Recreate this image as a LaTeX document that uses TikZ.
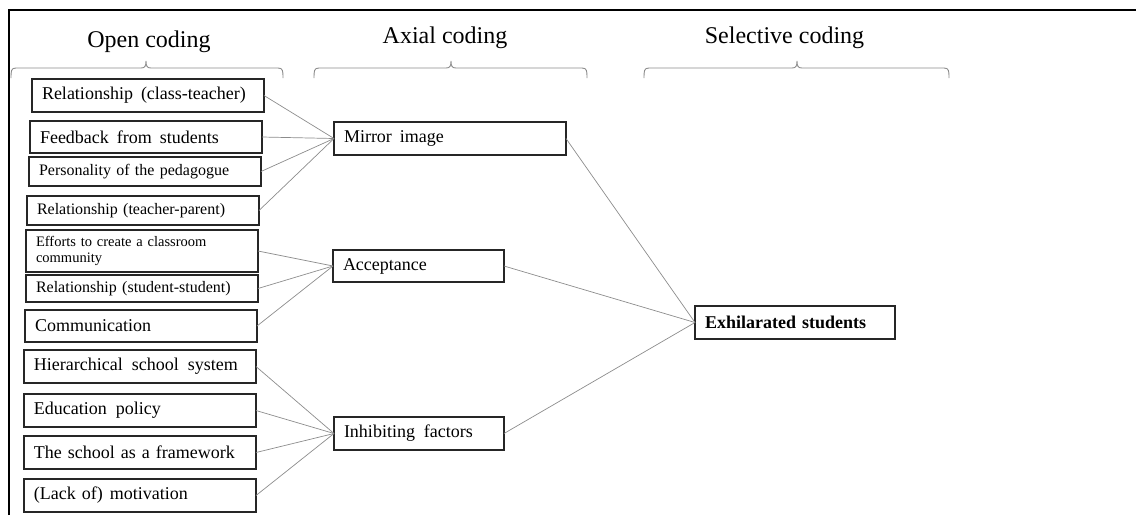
\documentclass[tikz,border=0pt]{standalone}
\usepackage{fontspec}
\setmainfont{Liberation Serif}
\begin{document}
\begin{tikzpicture}[x=1pt,y=-1pt,
  codebox/.style={draw=black!85, line width=1.4pt, anchor=north west,
    inner xsep=10pt, inner ysep=0pt, align=left, outer sep=0pt},
  fsmall/.style={font=\fontsize{14.5}{16.5}\selectfont},
  fmid/.style={font=\fontsize{16}{18}\selectfont},
  fbig/.style={font=\fontsize{18}{20}\selectfont},
  conn/.style={draw=black!45, line width=0.7pt},
  bracket/.style={draw=black!45, line width=0.9pt},
  header/.style={anchor=base, font=\fontsize{24}{26}\selectfont}]
\useasboundingbox (0,0) rectangle (1136,515);

% outer frame (top and left sides)
\draw[line width=2pt] (9,515) -- (9,10) -- (1136,10);

% column headers
\node[header] (hopen) at (149,47) {Open coding};
\node[header] (haxial) at (445,43) {Axial coding};
\node[header] (hsel) at (784.5,43) {Selective coding};

% curly brackets under the headers
\newcommand\codingbrace[3]{%
  \draw[bracket] (#1,78) .. controls (#1,71) and (#1,68) .. (#1+5,68)
    -- (#2-5,68) .. controls (#2-1,68) and (#2,66) .. (#2,61)
    .. controls (#2,66) and (#2+1,68) .. (#2+5,68)
    -- (#3-5,68) .. controls (#3,68) and (#3,71) .. (#3,78);}
\codingbrace{11}{146}{283}
\codingbrace{314}{451}{587}
\codingbrace{644}{797}{949}

% open codes
\node[codebox, fbig, text width=212pt, minimum height=33pt] (o1) at (32,79) {Relationship\hspace{2pt} (class-teacher)};
\node[codebox, fbig, text width=212pt, minimum height=32pt] (o2) at (30,121) {Feedback\hspace{2pt} from\hspace{2pt} students};
\node[codebox, fmid, text width=212pt, minimum height=29pt] (o3) at (29,157) {Personality of the pedagogue};
\node[codebox, fmid, text width=212pt, minimum height=29pt] (o4) at (27,196) {Relationship (teacher-parent)};
\node[codebox, fsmall, text width=212pt, minimum height=42pt] (o5) at (26,230) {Efforts to create a classroom\\community};
\node[codebox, fmid, text width=212pt, minimum height=27pt] (o6) at (26,275) {Relationship (student-student)};
\node[codebox, fbig, text width=212pt, minimum height=32pt] (o7) at (25,310) {Communication};
\node[codebox, fbig, text width=212pt, minimum height=33pt] (o8) at (24,350) {Hierarchical\hspace{3pt} school\hspace{3pt} system};
\node[codebox, fbig, text width=212pt, minimum height=33pt] (o9) at (24,394) {Education\hspace{3pt} policy};
\node[codebox, fbig, text width=212pt, minimum height=33pt] (o10) at (24,436) {The school as a framework};
\node[codebox, fbig, text width=212pt, minimum height=33pt] (o11) at (24,479) {(Lack of)\hspace{1pt} motivation};

% axial codes
\node[codebox, fbig, text width=212pt, minimum height=33pt] (mirror) at (334,122) {Mirror\hspace{2pt} image};
\node[codebox, fbig, text width=151pt, minimum height=32pt] (accept) at (333,250) {Acceptance};
\node[codebox, fbig, text width=150pt, minimum height=33pt] (inhib) at (334,417) {Inhibiting\hspace{3pt} factors};

% selective code
\node[codebox, fbig, text width=180pt, minimum height=33pt, font=\fontsize{18}{20}\selectfont\bfseries] (exhil) at (695,306) {Exhilarated students};

% connectors
\foreach \s in {o1,o2,o3,o4} \draw[conn] (\s.east) -- (mirror.west);
\foreach \s in {o5,o6,o7} \draw[conn] (\s.east) -- (accept.west);
\foreach \s in {o8,o9,o10,o11} \draw[conn] (\s.east) -- (inhib.west);
\foreach \s in {mirror,accept,inhib} \draw[conn] (\s.east) -- (exhil.west);
\end{tikzpicture}
\end{document}
